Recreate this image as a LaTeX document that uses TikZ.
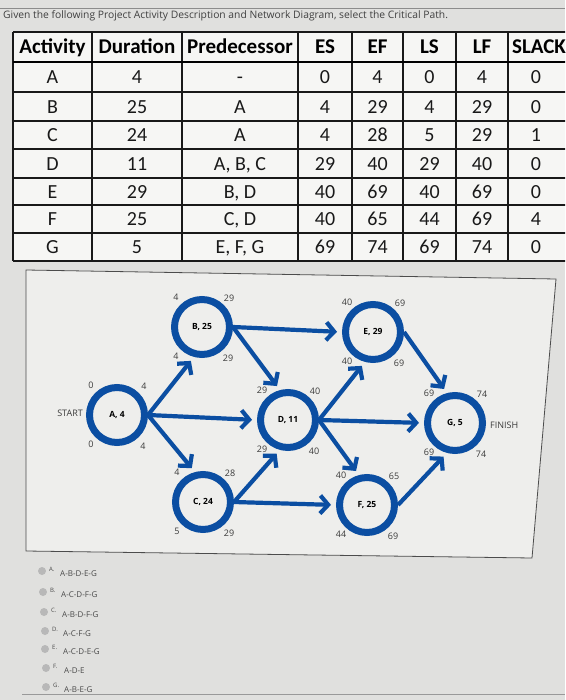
\documentclass[tikz,border=0pt]{standalone}
\usepackage{fontspec}
\setmainfont{Carlito}
\newfontfamily\uifont{Open Sans}
\usetikzlibrary{arrows.meta,calc}
\definecolor{netblue}{HTML}{0B4EA2}
\definecolor{bgc}{HTML}{E0E0DE}
\definecolor{panelc}{HTML}{EEEEEC}
\definecolor{cellc}{HTML}{F6F6F4}
\definecolor{numc}{HTML}{3A3A3A}
\definecolor{optc}{HTML}{4A4A4A}
\tikzset{
  act/.style={circle, draw=netblue, line width=7pt, minimum size=55pt, inner sep=0pt,
    font=\uifont\bfseries\fontsize{8.5}{10}\selectfont, text=black},
  num/.style={font=\uifont\fontsize{9}{10}\selectfont, text=numc, inner sep=0pt},
  conn/.style={draw=netblue, line width=4.2pt, -{Straight Barb[length=8pt,width=18pt]}, shorten >=5pt},
  tline/.style={draw=black!90, line width=1.6pt},
  hdr/.style={font=\bfseries\fontsize{21}{24}\selectfont, anchor=base, inner sep=0pt},
  cellt/.style={font=\fontsize{20}{24}\selectfont, anchor=base, inner sep=0pt, text=black!90},
  radio/.style={circle, fill=black!28, minimum size=8pt, inner sep=0pt},
  optl/.style={font=\uifont\fontsize{6}{7}\selectfont, text=optc, inner sep=0pt, anchor=west},
  optt/.style={font=\uifont\fontsize{8}{9}\selectfont, text=optc, inner sep=0pt, anchor=west},
}
\newcommand\actnode[7]{%
  \node[act] (#1) at (#2) {#3};
  \node[num] (#1tl) at ($(#1)+(-26,-30)$) {#4};
  \node[num] (#1tr) at ($(#1)+(27,-29)$) {#5};
  \node[num] (#1bl) at ($(#1)+(-26,29)$) {#6};
  \node[num] (#1br) at ($(#1)+(26,31)$) {#7};
}
\begin{document}
\begin{tikzpicture}[x=1pt,y=-1pt]
\useasboundingbox (0,0) rectangle (565,700);
\clip (0,0) rectangle (565,700);
\fill[bgc] (0,0) rectangle (565,700);
% title
\node[font=\uifont\fontsize{10.3}{12}\selectfont, text=black!75, anchor=base west, inner sep=0pt] (title) at (3,18.5) {Given the following Project Activity Description and Network Diagram, select the Critical Path.};
\draw[black!45, line width=0.8pt] (0,8.5) -- (565,8.5);
% table
\fill[cellc] (13,32) rectangle (572,261);
\foreach \x in {13,92,182,298,352,403,456,508,572} \draw[tline] (\x,32) -- (\x,261);
\foreach \y in {32,92,121,149,178,205,233,261} \draw[tline] (13,\y) -- (572,\y);
\draw[draw=black, line width=2.8pt] (13,62) -- (572,62);
\foreach \cx/\t [count=\i] in {52.5/Activity,137/Duration,240/Predecessor,325/ES,377.5/EF,429.5/LS,482/LF,539/SLACK}
  \node[hdr] (h\i) at (\cx,54) {\t};
\foreach \cy/\a/\b/\c/\d/\e/\f/\g/\h [count=\r] in {
  84/A/4/-/0/4/0/4/0,
  113.5/B/25/A/4/29/4/29/0,
  142/C/24/A/4/28/5/29/1,
  170.5/D/11/{A, B, C}/29/40/29/40/0,
  198.5/E/29/{B, D}/40/69/40/69/0,
  226/F/25/{C, D}/40/65/44/69/4,
  254/G/5/{E, F, G}/69/74/69/74/0}{
  \node[cellt] (r\r c1) at (52.5,\cy) {\a};
  \node[cellt] (r\r c2) at (137,\cy) {\b};
  \node[cellt] (r\r c3) at (240,\cy) {\c};
  \node[cellt] (r\r c4) at (325,\cy) {\d};
  \node[cellt] (r\r c5) at (377.5,\cy) {\e};
  \node[cellt] (r\r c6) at (429.5,\cy) {\f};
  \node[cellt] (r\r c7) at (482,\cy) {\g};
  \node[cellt] (r\r c8) at (536,\cy) {\h};
}
% diagram panel
\draw[black!70, line width=0.8pt, fill=panelc] (26,270) -- (556,279) -- (532,558) -- (26,551) -- cycle;
\actnode{A}{117,415}{A, 4}{0}{4}{0}{4}
\actnode{B}{202,327}{B, 25}{4}{29}{4}{29}
\actnode{C}{203,502}{C, 24}{4}{28}{5}{29}
\actnode{D}{288,420}{D, 11}{29}{40}{29}{40}
\actnode{E}{373,332}{E, 29}{40}{69}{40}{69}
\actnode{F}{367,505}{F, 25}{40}{65}{44}{69}
\actnode{G}{455,423}{G, 5}{69}{74}{69}{74}
\node[num, anchor=east] (start) at ($(A.west)+(-3,-2)$) {START};
\node[num, anchor=west] (finish) at ($(G.east)+(4,2)$) {FINISH};
\draw[conn] (A.east) -- (B.255);
\draw[conn] (A.east) -- (D.west);
\draw[conn] (A.east) -- (C.105);
\draw[conn] (B.east) -- (E.west);
\draw[conn] (B.east) -- (D.105);
\draw[conn] (C.east) -- (D.255);
\draw[conn] (C.east) -- (F.west);
\draw[conn] (D.east) -- (E.255);
\draw[conn] (D.east) -- (G.west);
\draw[conn] (D.east) -- (F.105);
\draw[conn] (E.east) -- (G.105);
\draw[conn] (F.east) -- (G.255);
% options
\foreach \rx/\ry/\l/\t [count=\k] in {42/571/A/A-B-D-E-G, 43/592/B/A-C-D-F-G, 44/612/C/A-B-D-F-G, 45/631/D/A-C-F-G, 45/649/E/A-C-D-E-G, 46/668/F/A-D-E, 46/687/G/A-B-E-G}{
  \node[radio] (rb\k) at (\rx,\ry) {};
  \node[optl] (ol\k) at (\rx+7,\ry-2) {\l.};
  \node[optt] (ot\k) at (\rx+18,\ry+2.5) {\t};
}
\draw[black!40, line width=0.8pt] (22,694) -- (565,694);
\end{tikzpicture}
\end{document}
